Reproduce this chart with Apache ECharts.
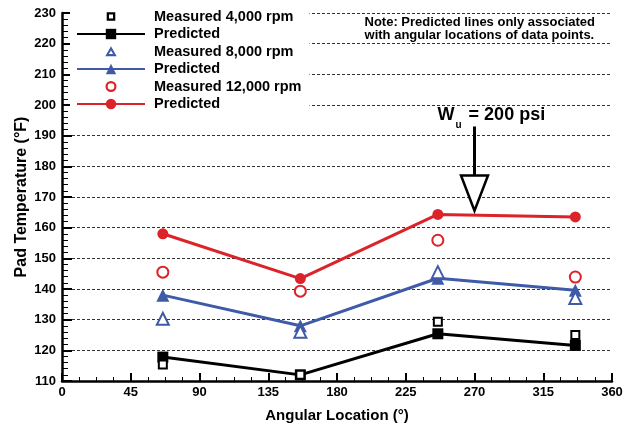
<!DOCTYPE html>
<html>
<head>
<meta charset="utf-8">
<script src="https://cdn.jsdelivr.net/npm/echarts@6/dist/echarts.min.js"></script>
<style>
  html, body { margin: 0; padding: 0; background: #ffffff; }
  #chart { width: 631px; height: 428px; }
</style>
</head>
<body>
<div id="chart"></div>
<script>
// Pad angular locations (degrees) and pad temperatures (°F)
const angles = [66, 156, 246, 336];
const measured4000 = [115.4, 112.0, 129.3, 125.0];
const predicted4000 = [117.8, 112.0, 125.4, 121.6];
const measured8000 = [130.3, 126.1, 145.5, 137.1];
const predicted8000 = [138.0, 128.0, 143.5, 139.6];
const measured12000 = [145.5, 139.3, 155.9, 143.9];
const predicted12000 = [158.0, 143.4, 164.3, 163.5];

// Axis ranges and tick steps
const xRange = [0, 360], xStep = 45;
const yRange = [110, 230], yStep = 10;

// Load annotation: arrow at 270° from 193 °F down to 165.5 °F
const loadArrow = { angle: 270, top: 193, headBase: 177, tip: 165.5 };
const noteText = 'Note: Predicted lines only associated\nwith angular locations of data points.';

const BLACK = '#000000';
const BLUE = '#3f5ba8';
const RED = '#db2329';
const FONT = '"Liberation Sans", Arial, Helvetica, sans-serif';

// Hollow legend glyphs on a 13x13 frame (the two leading moves fix the frame size)
const FRAME = 'M0,0M13,13';
const ICON_OPEN_SQUARE = 'path://' + FRAME + 'M2.2,2.2H10.8V10.8H2.2ZM4.5,4.5V8.5H8.5V4.5Z';
const ICON_OPEN_TRIANGLE = 'path://' + FRAME + 'M6.5,1.2L12.2,11.2H0.8ZM6.5,5.4L4.4,9.1H8.6Z';
const ICON_OPEN_CIRCLE = 'path://' + FRAME +
  'M1,6.5A5.5,5.5 0 1 1 12,6.5A5.5,5.5 0 1 1 1,6.5ZM3.2,6.5A3.3,3.3 0 1 0 9.8,6.5A3.3,3.3 0 1 0 3.2,6.5Z';

const pair = arr => angles.map((a, i) => [a, arr[i]]);

function measured(name, values, symbol, color, size) {
  return {
    name, type: 'scatter', data: pair(values), symbol, symbolSize: size,
    itemStyle: { color, borderColor: color, borderWidth: 2.2, opacity: 1 },
    z: 4
  };
}
function predicted(name, values, symbol, color, size) {
  return {
    name, type: 'line', data: pair(values), symbol, symbolSize: size,
    showAllSymbol: true,
    lineStyle: { color, width: 3 },
    itemStyle: { color, borderWidth: 0 },
    z: 3
  };
}

const chart = echarts.init(document.getElementById('chart'), null, { renderer: 'canvas' });

chart.setOption({
  backgroundColor: '#ffffff',
  animation: false,
  textStyle: { fontFamily: FONT },
  grid: { left: 62, right: 19, top: 13, bottom: 43, containLabel: false },
  legend: {
    orient: 'vertical',
    left: 70, top: 7,
    padding: [2, 8, 2, 6],
    backgroundColor: '#ffffff',
    itemWidth: 68, itemHeight: 13, itemGap: 2.5,
    textStyle: { fontFamily: FONT, fontWeight: 'bold', fontSize: 14.5, lineHeight: 13,
                 color: '#000', padding: [0, 0, 0, 4] },
    formatter: n => n.startsWith('Predicted') ? 'Predicted' : n,
    data: [
      { name: 'Measured 4,000 rpm', icon: ICON_OPEN_SQUARE, itemStyle: { borderWidth: 0 } },
      'Predicted 4,000',
      { name: 'Measured 8,000 rpm', icon: ICON_OPEN_TRIANGLE, itemStyle: { borderWidth: 0 } },
      'Predicted 8,000',
      { name: 'Measured 12,000 rpm', icon: ICON_OPEN_CIRCLE, itemStyle: { borderWidth: 0 } },
      'Predicted 12,000'
    ]
  },
  xAxis: {
    type: 'value', min: xRange[0], max: xRange[1], interval: xStep,
    name: 'Angular Location (°)', nameLocation: 'middle', nameGap: 27,
    nameMoveOverlap: false,
    nameTextStyle: { fontFamily: FONT, fontWeight: 'bold', fontSize: 15, color: '#000' },
    axisLine: { lineStyle: { color: '#000', width: 2.5 } },
    axisTick: { inside: true, length: 8, lineStyle: { color: '#000', width: 2 } },
    minorTick: { show: true, splitNumber: 4, length: 4, lineStyle: { color: '#000', width: 1 } },
    axisLabel: { fontFamily: FONT, fontWeight: 'bold', fontSize: 13, color: '#000', margin: 5 },
    splitLine: { show: false }
  },
  yAxis: {
    type: 'value', min: yRange[0], max: yRange[1], interval: yStep,
    name: 'Pad Temperature (°F)', nameLocation: 'middle', nameGap: 32, nameRotate: 90,
    nameMoveOverlap: false,
    nameTextStyle: { fontFamily: FONT, fontWeight: 'bold', fontSize: 16, color: '#000' },
    axisLine: { show: true, lineStyle: { color: '#000', width: 2.5 } },
    axisTick: { show: true, inside: true, length: 10, lineStyle: { color: '#000', width: 2 } },
    minorTick: { show: true, splitNumber: 5, length: 6, lineStyle: { color: '#000', width: 1 } },
    axisLabel: { fontFamily: FONT, fontWeight: 'bold', fontSize: 13, color: '#000', margin: 6 },
    splitLine: { show: true, lineStyle: { color: '#333', width: 1, type: [3, 2] } }
  },
  graphic: [
    {
      type: 'text', right: 36, top: 16,
      style: { text: noteText, fontFamily: FONT, fontWeight: 'bold', fontSize: 13,
               lineHeight: 13, fill: '#000', textAlign: 'left' }
    }
  ],
  series: [
    measured('Measured 4,000 rpm', measured4000, 'emptyRect', BLACK, 8),
    predicted('Predicted 4,000', predicted4000, 'rect', BLACK, 11),
    measured('Measured 8,000 rpm', measured8000, 'emptyTriangle', BLUE, 12),
    predicted('Predicted 8,000', predicted8000, 'triangle', BLUE, 13),
    measured('Measured 12,000 rpm', measured12000, 'emptyCircle', RED, 11),
    predicted('Predicted 12,000', predicted12000, 'circle', RED, 11),
    {
      type: 'custom', name: 'load', silent: true, z: 5,
      data: [[loadArrow.angle, loadArrow.top, loadArrow.headBase, loadArrow.tip]],
      renderItem: (params, api) => {
        const top = api.coord([api.value(0), api.value(1)]);
        const base = api.coord([api.value(0), api.value(2)]);
        const tip = api.coord([api.value(0), api.value(3)]);
        const half = 13.5;
        return {
          type: 'group',
          children: [
            { type: 'line', shape: { x1: top[0], y1: top[1], x2: base[0], y2: base[1] },
              style: { stroke: '#000', lineWidth: 3 } },
            { type: 'polygon',
              shape: { points: [[base[0] - half, base[1]], [base[0] + half, base[1]], tip] },
              style: { fill: '#fff', stroke: '#000', lineWidth: 2.5 } },
            { type: 'text', x: top[0] - 37, y: top[1] - 22,
              style: {
                text: '{w|W}{s|u}{w| = 200 psi}',
                rich: {
                  w: { fontFamily: FONT, fontWeight: 'bold', fontSize: 18, fill: '#000',
                       verticalAlign: 'bottom', lineHeight: 20 },
                  s: { fontFamily: FONT, fontWeight: 'bold', fontSize: 10, fill: '#000',
                       verticalAlign: 'bottom', lineHeight: 10, padding: [0, 2, -6, 1] }
                }
              } }
          ]
        };
      }
    }
  ]
});
</script>
</body>
</html>
